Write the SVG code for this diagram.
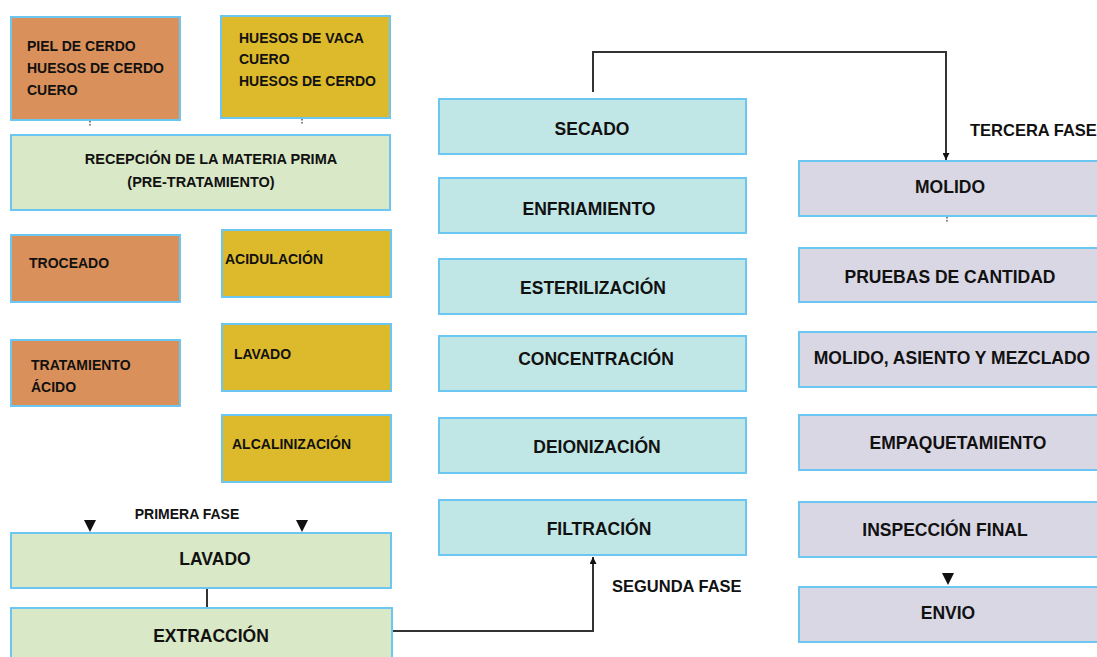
<svg xmlns="http://www.w3.org/2000/svg" width="1097" height="657" viewBox="0 0 1097 657">
<defs>
<style>
.box{stroke:#6CC6F2;stroke-width:2}
.or{fill:#D9905A}.ye{fill:#DDBA2B}.gr{fill:#D9E8C6}.cy{fill:#C1E6E6}.lv{fill:#DAD7E4}
text{font-family:"Liberation Sans",Arial,sans-serif;font-weight:bold;fill:#111}
.s{font-size:14px}.m{font-size:17.5px;text-anchor:middle}.l{font-size:16.5px}
.ln{fill:none;stroke:#333;stroke-width:2}
.dot{stroke:#555;stroke-width:1.5;stroke-dasharray:1.5,1.5}
</style>
<marker id="ah" viewBox="0 0 10 10" refX="10" refY="5" markerWidth="7" markerHeight="7" orient="auto" markerUnits="userSpaceOnUse"><path d="M0,0L10,5L0,10z" fill="#111"/></marker>
</defs>
<rect width="1097" height="657" fill="#fff"/>
<g id="connectors">
<line class="dot" x1="90" y1="121" x2="90" y2="127"/>
<line class="dot" x1="302" y1="119" x2="302" y2="125"/>
<line class="dot" x1="947" y1="217" x2="947" y2="223"/>
<path d="M84,520 L96,520 L90,532 Z" fill="#111"/>
<path d="M296,520 L308,520 L302,532 Z" fill="#111"/>
<path d="M942,573 L954,573 L948,585 Z" fill="#111"/>
<line class="ln" x1="207" y1="588" x2="207" y2="608"/>
<path class="ln" d="M392,631 L593,631 L593,557" marker-end="url(#ah)"/>
<path class="ln" d="M593,92 L593,52 L946,52 L946,160" marker-end="url(#ah)"/>
</g>
<g id="n-piel"><rect class="box or" x="11" y="17" width="169" height="103"/>
<text class="s" x="27" y="51">PIEL DE CERDO</text><text class="s" x="27" y="73">HUESOS DE CERDO</text><text class="s" x="27" y="95">CUERO</text></g>
<g id="n-huesos"><rect class="box ye" x="221" y="16" width="169" height="102"/>
<text class="s" x="239" y="43">HUESOS DE VACA</text><text class="s" x="239" y="64">CUERO</text><text class="s" x="239" y="86">HUESOS DE CERDO</text></g>
<g id="n-recepcion"><rect class="box gr" x="11" y="135" width="379" height="75"/>
<text class="s" x="211" y="164" text-anchor="middle" style="font-size:14.5px">RECEPCIÓN DE LA MATERIA PRIMA</text>
<text class="s" x="201" y="187" text-anchor="middle" style="font-size:14.5px">(PRE-TRATAMIENTO)</text></g>
<g id="n-troceado"><rect class="box or" x="11" y="235" width="169" height="67"/><text class="s" x="29" y="268">TROCEADO</text></g>
<g id="n-acidulacion"><rect class="box ye" x="222" y="230" width="169" height="67"/><text class="s" x="225" y="264">ACIDULACIÓN</text></g>
<g id="n-tratamiento"><rect class="box or" x="11" y="340" width="169" height="66"/><text class="s" x="31" y="370">TRATAMIENTO</text><text class="s" x="31" y="392">ÁCIDO</text></g>
<g id="n-lavado1"><rect class="box ye" x="222" y="324" width="169" height="67"/><text class="s" x="234" y="359">LAVADO</text></g>
<g id="n-alcalinizacion"><rect class="box ye" x="222" y="415" width="169" height="67"/><text class="s" x="232" y="449">ALCALINIZACIÓN</text></g>
<text x="187" y="519" style="font-size:14px" text-anchor="middle">PRIMERA FASE</text>
<g id="n-lavado2"><rect class="box gr" x="11" y="533" width="380" height="55"/><text class="m" x="215" y="565">LAVADO</text></g>
<g id="n-extraccion"><rect class="box gr" x="11" y="608" width="381" height="60"/><text class="m" x="211" y="642">EXTRACCIÓN</text></g>
<g id="n-secado"><rect class="box cy" x="439" y="99" width="307" height="55"/><text class="m" x="592" y="135">SECADO</text></g>
<g id="n-enfriamiento"><rect class="box cy" x="439" y="178" width="307" height="55"/><text class="m" x="589" y="215">ENFRIAMIENTO</text></g>
<g id="n-esterilizacion"><rect class="box cy" x="439" y="259" width="307" height="55"/><text class="m" x="593" y="294">ESTERILIZACIÓN</text></g>
<g id="n-concentracion"><rect class="box cy" x="439" y="336" width="307" height="55"/><text class="m" x="596" y="365">CONCENTRACIÓN</text></g>
<g id="n-deionizacion"><rect class="box cy" x="439" y="418" width="307" height="55"/><text class="m" x="597" y="453">DEIONIZACIÓN</text></g>
<g id="n-filtracion"><rect class="box cy" x="439" y="500" width="307" height="55"/><text class="m" x="599" y="535">FILTRACIÓN</text></g>
<text class="l" x="612" y="592">SEGUNDA FASE</text>
<text class="l" x="970" y="136">TERCERA FASE</text>
<g id="n-molido"><rect class="box lv" x="799" y="161" width="310" height="55"/><text class="m" x="950" y="193">MOLIDO</text></g>
<g id="n-pruebas"><rect class="box lv" x="799" y="248" width="310" height="54"/><text class="m" x="950" y="283">PRUEBAS DE CANTIDAD</text></g>
<g id="n-molido2"><rect class="box lv" x="799" y="332" width="310" height="55"/><text class="m" x="952" y="364">MOLIDO, ASIENTO Y MEZCLADO</text></g>
<g id="n-empaquetamiento"><rect class="box lv" x="799" y="415" width="310" height="55"/><text class="m" x="958" y="449">EMPAQUETAMIENTO</text></g>
<g id="n-inspeccion"><rect class="box lv" x="799" y="502" width="310" height="55"/><text class="m" x="945" y="536">INSPECCIÓN FINAL</text></g>
<g id="n-envio"><rect class="box lv" x="799" y="587" width="310" height="55"/><text class="m" x="948" y="619">ENVIO</text></g>
</svg>
